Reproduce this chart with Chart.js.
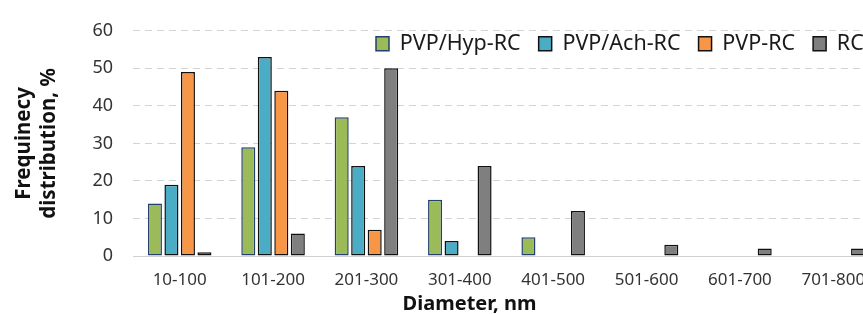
<!DOCTYPE html>
<html>
<head>
<meta charset="utf-8">
<script src="https://cdn.jsdelivr.net/npm/chart.js@4"></script>
<style>
  html, body { margin: 0; padding: 0; background: #fff; overflow: hidden; }
  #wrap { width: 863px; height: 314px; overflow: hidden; position: relative; }
  canvas { display: block; }
</style>
</head>
<body>
<div id="wrap"><canvas id="c" width="880" height="314"></canvas></div>
<script>
const categories = ['10-100', '101-200', '201-300', '301-400', '401-500', '501-600', '601-700', '701-800'];
const seriesNames = ['PVP/Hyp-RC', 'PVP/Ach-RC', 'PVP-RC', 'RC'];
const hypValues = [14, 29, 37, 15, 5, 0, 0, 0];
const achValues = [19, 53, 24, 4, 0, 0, 0, 0];
const pvpValues = [49, 44, 7, 0, 0, 0, 0, 0];
const rcValues  = [1, 6, 50, 24, 12, 3, 2, 2];
const yTicks = [0, 10, 20, 30, 40, 50, 60];
const yTitle = ['Frequinecy', 'distribution, %'];
const xTitle = 'Diameter, nm';

const fills = ['#9BBB59', '#4BACC6', '#F79646', '#7F7F7F'];
const borders = ['#24406E', '#111111', '#111111', '#111111'];
const values = [hypValues, achValues, pvpValues, rcValues];

const layoutFix = {
  id: 'layoutFix',
  afterLayout(chart) {
    const lg = chart.legend;
    if (lg) {
      lg.left = 358; lg.right = 900;
      lg.top = 15; lg.bottom = 80;
      lg.width = lg.right - lg.left; lg.height = lg.bottom - lg.top;
    }
    const xs = chart.scales.x;
    if (xs && !xs._shifted) {
      const orig = xs.drawTitle.bind(xs);
      xs.drawTitle = function () {
        this.ctx.save();
        this.ctx.translate(-37, 0);
        orig();
        this.ctx.restore();
      };
      xs._shifted = true;
    }
  }
};

new Chart(document.getElementById('c'), {
  type: 'bar',
  data: {
    labels: categories,
    datasets: seriesNames.map((n, i) => ({
      label: n,
      data: values[i],
      backgroundColor: fills[i],
      borderColor: borders[i],
      borderWidth: 1.5,
      borderSkipped: false,
      categoryPercentage: 0.707,
      barPercentage: 0.85
    }))
  },
  options: {
    responsive: false,
    animation: false,
    layout: { padding: { top: 22, left: 0, right: 0, bottom: 0 } },
    plugins: {
      legend: {
        position: 'top',
        align: 'start',
        maxHeight: 1,
        labels: {
          boxWidth: 13,
          boxHeight: 14,
          padding: 18,
          color: '#1a1a1a',
          font: { family: 'Noto Sans', size: 21.5 }
        }
      },
      tooltip: { enabled: false }
    },
    scales: {
      x: {
        grid: { display: false, drawTicks: false },
        border: { display: true, color: '#d0d0d0', width: 1 },
        ticks: { color: '#333', padding: 14, font: { family: 'Noto Sans', size: 17 }, maxRotation: 0, autoSkip: false },
        title: { display: true, text: xTitle, color: '#111', padding: { top: 0, bottom: -2 }, font: { family: 'Noto Sans', size: 20, weight: 'bold' } },
        afterFit(s) { s.height = 58; }
      },
      y: {
        min: 0, max: 60,
        afterBuildTicks(s) { s.ticks = yTicks.map(v => ({ value: v })); },
        grid: { color: '#d3d3d3', lineWidth: 1, drawTicks: false },
        border: { display: false, dash: [7, 5] },
        ticks: { color: '#333', padding: 20, font: { family: 'Noto Sans', size: 18 } },
        title: { display: true, text: yTitle, color: '#111', padding: { top: 12, bottom: 0 }, font: { family: 'Noto Sans', size: 20.5, weight: 'bold', lineHeight: 1.2 } },
        afterFit(s) { s.width = 133; }
      }
    }
  },
  plugins: [layoutFix]
});
</script>
</body>
</html>
